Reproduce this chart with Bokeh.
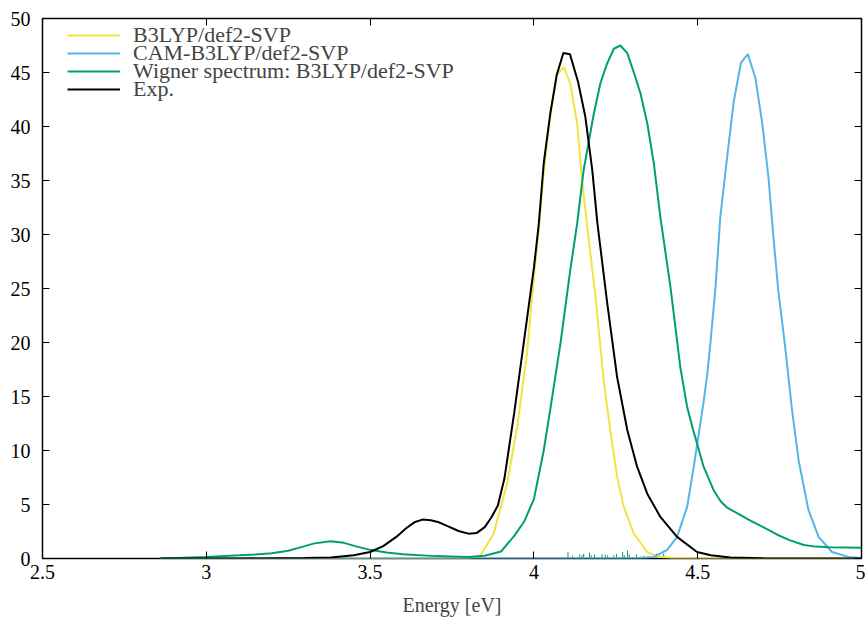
from bokeh.plotting import figure
from bokeh.models import LinearAxis, Range1d, Legend, LegendItem, FixedTicker
from bokeh.embed import file_html
from bokeh.resources import INLINE

# ---------------- data ----------------
x_ticks = [2.5, 3.0, 3.5, 4.0, 4.5, 5.0]
x_tick_labels = ["2.5", "3", "3.5", "4", "4.5", "5"]
y_ticks = [0, 5, 10, 15, 20, 25, 30, 35, 40, 45, 50]

series_names = ["B3LYP/def2-SVP", "CAM-B3LYP/def2-SVP",
                "Wigner spectrum: B3LYP/def2-SVP", "Exp."]

b3lyp_E = [2.86, 3.50, 3.80, 3.837, 3.877, 3.918, 3.949, 3.979, 3.999, 4.015,
           4.030, 4.050, 4.069, 4.091, 4.111, 4.132, 4.147, 4.163, 4.188, 4.213,
           4.233, 4.254, 4.274, 4.305, 4.346, 4.376, 4.42, 4.50, 5.00]
b3lyp_I = [0.0, 0.0, 0.05, 0.3, 2.3, 6.9, 12.2, 19.0, 25.8, 30.5,
           35.8, 41.0, 44.75, 45.5, 44.0, 40.3, 35.0, 30.7, 24.2, 16.5,
           11.9, 7.6, 4.8, 2.3, 0.6, 0.2, 0.05, 0.0, 0.0]

cam_E = [2.86, 4.30, 4.366, 4.407, 4.437, 4.468, 4.488, 4.508, 4.518, 4.529,
         4.539, 4.554, 4.569, 4.590, 4.610, 4.632, 4.653, 4.676, 4.697, 4.716,
         4.731, 4.746, 4.767, 4.787, 4.808, 4.838, 4.869, 4.910, 4.960, 5.00]
cam_I = [0.0, 0.0, 0.15, 0.8, 2.0, 4.8, 8.5, 12.5, 14.5, 17.0,
         20.0, 25.0, 31.6, 37.2, 42.3, 45.9, 46.7, 44.5, 40.3, 35.3,
         29.8, 24.8, 19.6, 14.0, 9.1, 4.5, 2.0, 0.6, 0.15, 0.05]

wig_E = [2.86, 3.00, 3.10, 3.15, 3.20, 3.25, 3.29, 3.33, 3.38, 3.42,
         3.46, 3.50, 3.55, 3.60, 3.70, 3.80, 3.85, 3.90, 3.94, 3.97,
         4.00, 4.030, 4.050, 4.081, 4.111, 4.132, 4.152, 4.183, 4.203, 4.223,
         4.244, 4.264, 4.285, 4.305, 4.325, 4.346, 4.366, 4.386, 4.417, 4.447,
         4.468, 4.488, 4.518, 4.549, 4.570, 4.590, 4.620, 4.661, 4.700, 4.743,
         4.780, 4.824, 4.860, 4.900, 5.00]
wig_I = [0.0, 0.15, 0.3, 0.38, 0.48, 0.72, 1.05, 1.4, 1.6, 1.45,
         1.1, 0.8, 0.55, 0.4, 0.22, 0.15, 0.25, 0.65, 2.1, 3.4,
         5.5, 10.0, 13.8, 19.9, 26.7, 31.0, 36.0, 41.2, 44.0, 45.8,
         47.2, 47.5, 46.8, 45.0, 43.1, 40.3, 36.6, 31.6, 25.1, 17.7,
         14.0, 11.7, 8.5, 6.3, 5.3, 4.7, 4.2, 3.5, 2.9, 2.2,
         1.7, 1.25, 1.1, 1.05, 1.0]

exp_E = [2.86, 3.10, 3.30, 3.38, 3.45, 3.50, 3.54, 3.58, 3.61, 3.635,
         3.66, 3.685, 3.71, 3.74, 3.77, 3.80, 3.825, 3.85, 3.87, 3.89,
         3.91, 3.94, 3.97, 4.00, 4.015, 4.030, 4.050, 4.070, 4.090, 4.110,
         4.135, 4.157, 4.178, 4.194, 4.224, 4.254, 4.285, 4.315, 4.346, 4.386,
         4.437, 4.498, 4.54, 4.60, 4.70, 5.00]
exp_I = [0.0, 0.0, 0.05, 0.1, 0.3, 0.6, 1.15, 2.0, 2.8, 3.35,
         3.6, 3.55, 3.35, 2.95, 2.55, 2.3, 2.35, 2.9, 3.8, 4.9,
         7.4, 13.5, 20.2, 26.9, 31.0, 36.6, 41.2, 44.8, 46.8, 46.7,
         44.1, 40.9, 36.0, 31.0, 23.6, 16.8, 11.9, 8.5, 6.0, 3.85,
         2.0, 0.6, 0.3, 0.1, 0.02, 0.0]

stick_E = [4.091, 4.104, 4.118, 4.140, 4.147, 4.152, 4.170, 4.175, 4.185, 4.208,
           4.218, 4.225, 4.244, 4.252, 4.271, 4.276, 4.286, 4.291, 4.313, 4.325,
           4.335, 4.345, 4.374, 4.396]
stick_I = [0.15, 0.6, 0.25, 0.37, 0.3, 0.43, 0.55, 0.3, 0.37, 0.4,
           0.37, 0.3, 0.3, 0.43, 0.62, 0.3, 0.74, 0.37, 0.37, 0.19,
           0.25, 0.15, 0.46, 0.46]

colors = ["#f0e442", "#56b4e9", "#009e73", "#000000"]

# ---------------- figure ----------------
FONT = "Liberation Serif"

p = figure(width=865, height=618, x_range=Range1d(2.5, 5.0), y_range=Range1d(0, 50),
           output_backend="svg", toolbar_location=None,
           min_border_left=42, min_border_right=4, min_border_top=18,
           min_border_bottom=60)
p.background_fill_color = "white"
p.border_fill_color = "white"
p.outline_line_color = "black"
p.outline_line_width = 1.5
p.xgrid.visible = False
p.ygrid.visible = False

for ax in (p.xaxis[0], p.yaxis[0]):
    ax.major_tick_in = 7
    ax.major_tick_out = 0
    ax.minor_tick_line_color = None
    ax.axis_line_color = None
    ax.major_tick_line_color = "black"
    ax.major_label_text_font = FONT
    ax.major_label_text_font_size = "20px"
    ax.major_label_text_color = "black"

p.xaxis[0].ticker = FixedTicker(ticks=x_ticks)
p.xaxis[0].major_label_overrides = {t: l for t, l in zip(x_ticks, x_tick_labels)}
p.xaxis[0].major_label_standoff = 6
p.xaxis[0].axis_label = "Energy [eV]"
p.xaxis[0].axis_label_text_font = FONT
p.xaxis[0].axis_label_text_font_size = "20px"
p.xaxis[0].axis_label_text_font_style = "normal"
p.xaxis[0].axis_label_standoff = 12
p.yaxis[0].ticker = FixedTicker(ticks=y_ticks)
p.yaxis[0].major_label_standoff = 12

# mirrored ticks (top and right), no labels
top = LinearAxis(ticker=FixedTicker(ticks=x_ticks))
top.major_label_overrides = {t: "" for t in x_ticks}
right = LinearAxis(ticker=FixedTicker(ticks=y_ticks))
right.major_label_overrides = {t: "" for t in y_ticks}
for ax in (top, right):
    ax.major_tick_in = 7
    ax.major_tick_out = 0
    ax.minor_tick_line_color = None
    ax.axis_line_color = None
    ax.major_label_text_font_size = "1px"
    ax.major_label_standoff = 0
p.add_layout(top, "above")
p.add_layout(right, "right")

# sticks
p.segment(x0=stick_E, y0=[0] * len(stick_E), x1=stick_E, y1=stick_I,
          line_color="#009e73", line_width=1)

renderers = []
for E, I, c in zip([b3lyp_E, cam_E, wig_E, exp_E], [b3lyp_I, cam_I, wig_I, exp_I], colors):
    r = p.line(E, I, line_color=c, line_width=2)
    renderers.append(r)

# one legend box per row so the rows sit as tightly as in the reference
row_offsets = [510, 492, 474.5, 456.5]
for name, r, yoff in zip(series_names, renderers, row_offsets):
    lg = Legend(items=[LegendItem(label=name, renderers=[r])], location=(25, yoff))
    lg.label_text_font = FONT
    lg.label_text_font_size = "22px"
    lg.glyph_width = 53
    lg.glyph_height = 24
    lg.label_height = 24
    lg.label_standoff = 13
    lg.spacing = 0
    lg.padding = 0
    lg.margin = 0
    lg.border_line_color = None
    lg.background_fill_alpha = 0
    p.add_layout(lg)

open("out.html", "w").write(file_html(p, INLINE))
